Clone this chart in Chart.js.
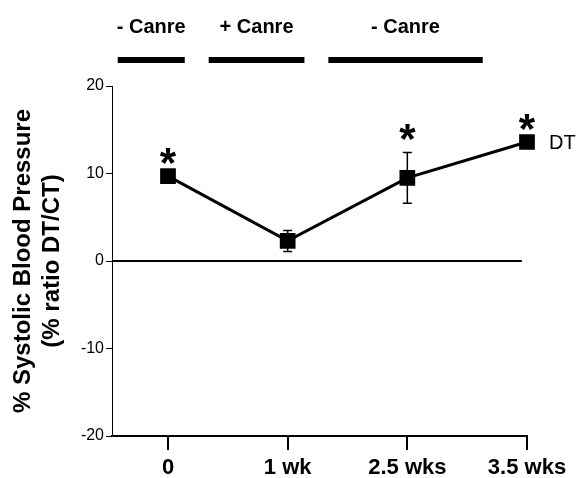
<!DOCTYPE html>
<html>
<head>
<meta charset="utf-8">
<script src="https://cdn.jsdelivr.net/npm/chart.js@4"></script>
<style>
  html, body { margin: 0; padding: 0; background: #fff; }
  #wrap { width: 579px; height: 478px; }
</style>
</head>
<body>
<div id="wrap"><canvas id="chart"></canvas></div>
<script>
'use strict';

const FONT = "'Liberation Sans', Arial, sans-serif";

// x categories and values
const categories = ['0', '1 wk', '2.5 wks', '3.5 wks'];
const dtValues = [9.7, 2.3, 9.5, 13.6];
const dtErrors = [0, 1.2, 2.9, 0];
const significant = [true, false, true, true];
const yTicks = [-20, -10, 0, 10, 20];

// treatment phases shown over the chart (in category units)
const phaseLabels = ['- Canre', '+ Canre', '- Canre'];
const phaseStart = [-0.42, 0.34, 1.34];
const phaseEnd = [0.14, 1.14, 2.63];

const xMin = -0.468;
const zeroLineEnd = 2.957;

let canvasElem = document.getElementById('chart');

// error bars, asterisks, series label and the phase bars
const extras = {
  id: 'extras',
  afterDatasetsDraw(chart) {
    const ctx = chart.ctx;
    const x = chart.scales.x;
    const y = chart.scales.y;
    ctx.save();
    ctx.strokeStyle = '#000';
    ctx.fillStyle = '#000';

    // error bars
    ctx.lineWidth = 1.5;
    dtValues.forEach((v, i) => {
      const e = dtErrors[i];
      if (!e) return;
      const px = x.getPixelForValue(i);
      const top = y.getPixelForValue(v + e);
      const bot = y.getPixelForValue(v - e);
      ctx.beginPath();
      ctx.moveTo(px, top); ctx.lineTo(px, bot);
      ctx.moveTo(px - 4.5, top); ctx.lineTo(px + 4.5, top);
      ctx.moveTo(px - 4.5, bot); ctx.lineTo(px + 4.5, bot);
      ctx.stroke();
    });

    // asterisks
    ctx.font = 'bold 42px ' + FONT;
    ctx.textAlign = 'center';
    ctx.textBaseline = 'middle';
    dtValues.forEach((v, i) => {
      if (!significant[i]) return;
      const px = x.getPixelForValue(i);
      const py = y.getPixelForValue(v + dtErrors[i]) - 20;
      ctx.fillText('*', px, py + 9);
    });

    // series label
    const last = dtValues.length - 1;
    ctx.font = '20px ' + FONT;
    ctx.textAlign = 'left';
    ctx.fillText('DT', x.getPixelForValue(last) + 22, y.getPixelForValue(dtValues[last]) + 1);

    // phase labels and bars
    ctx.font = 'bold 20px ' + FONT;
    ctx.textAlign = 'center';
    phaseLabels.forEach((label, i) => {
      const x0 = x.getPixelForValue(phaseStart[i]);
      const x1 = x.getPixelForValue(phaseEnd[i]);
      ctx.fillText(label, (x0 + x1) / 2, 27);
      ctx.fillRect(x0, 57, x1 - x0, 6);
    });
    ctx.restore();
  }
};

function renderChart() {
  const data = {
    datasets: [
      {
        label: 'zero',
        data: [{ x: xMin, y: 0 }, { x: zeroLineEnd, y: 0 }],
        borderColor: '#000',
        borderWidth: 2,
        pointRadius: 0,
        order: 2,
      },
      {
        label: 'DT',
        data: dtValues.map((v, i) => ({ x: i, y: v })),
        borderColor: '#000',
        backgroundColor: '#000',
        borderWidth: 3,
        pointStyle: 'rect',
        pointRadius: 9,
        clip: false,
        order: 1,
      },
    ],
  };

  const options = {
    responsive: true,
    maintainAspectRatio: false,
    animation: false,
    layout: { padding: { top: 86, right: 52, left: 0, bottom: 0 } },
    plugins: { legend: { display: false }, tooltip: { enabled: false } },
    scales: {
      x: {
        type: 'linear',
        min: xMin,
        max: 3,
        afterBuildTicks: scale => {
          scale.ticks = categories.map((c, i) => ({ value: i }));
        },
        afterFit: scale => { scale.height = 42; },
        ticks: {
          callback: v => categories[v],
          color: '#000',
          font: { family: FONT, size: 22, weight: 'bold' },
          padding: 5,
          maxRotation: 0,
          autoSkip: false,
        },
        grid: {
          drawOnChartArea: false,
          drawTicks: true,
          tickLength: 14,
          color: '#000',
          lineWidth: 2,
        },
        border: { display: true, color: '#000', width: 2 },
      },
      y: {
        min: -20,
        max: 20,
        afterBuildTicks: scale => {
          scale.ticks = yTicks.map(v => ({ value: v }));
        },
        afterFit: scale => { scale.width = 112; },
        ticks: {
          color: '#000',
          font: { family: FONT, size: 16 },
          padding: 2,
        },
        grid: {
          drawOnChartArea: false,
          drawTicks: true,
          tickLength: 6,
          color: '#000',
          lineWidth: 1,
        },
        border: { display: true, color: '#000', width: 1 },
        title: {
          display: true,
          text: ['% Systolic Blood Pressure', '(% ratio DT/CT)'],
          color: '#000',
          font: { family: FONT, size: 24, weight: 'bold', lineHeight: 1.2 },
          padding: { top: 9, bottom: 0 },
        },
      },
    },
  };

  new Chart(canvasElem, {
    type: 'line',
    data: data,
    options: options,
    plugins: [extras],
  });
}

renderChart();
</script>
</body>
</html>
